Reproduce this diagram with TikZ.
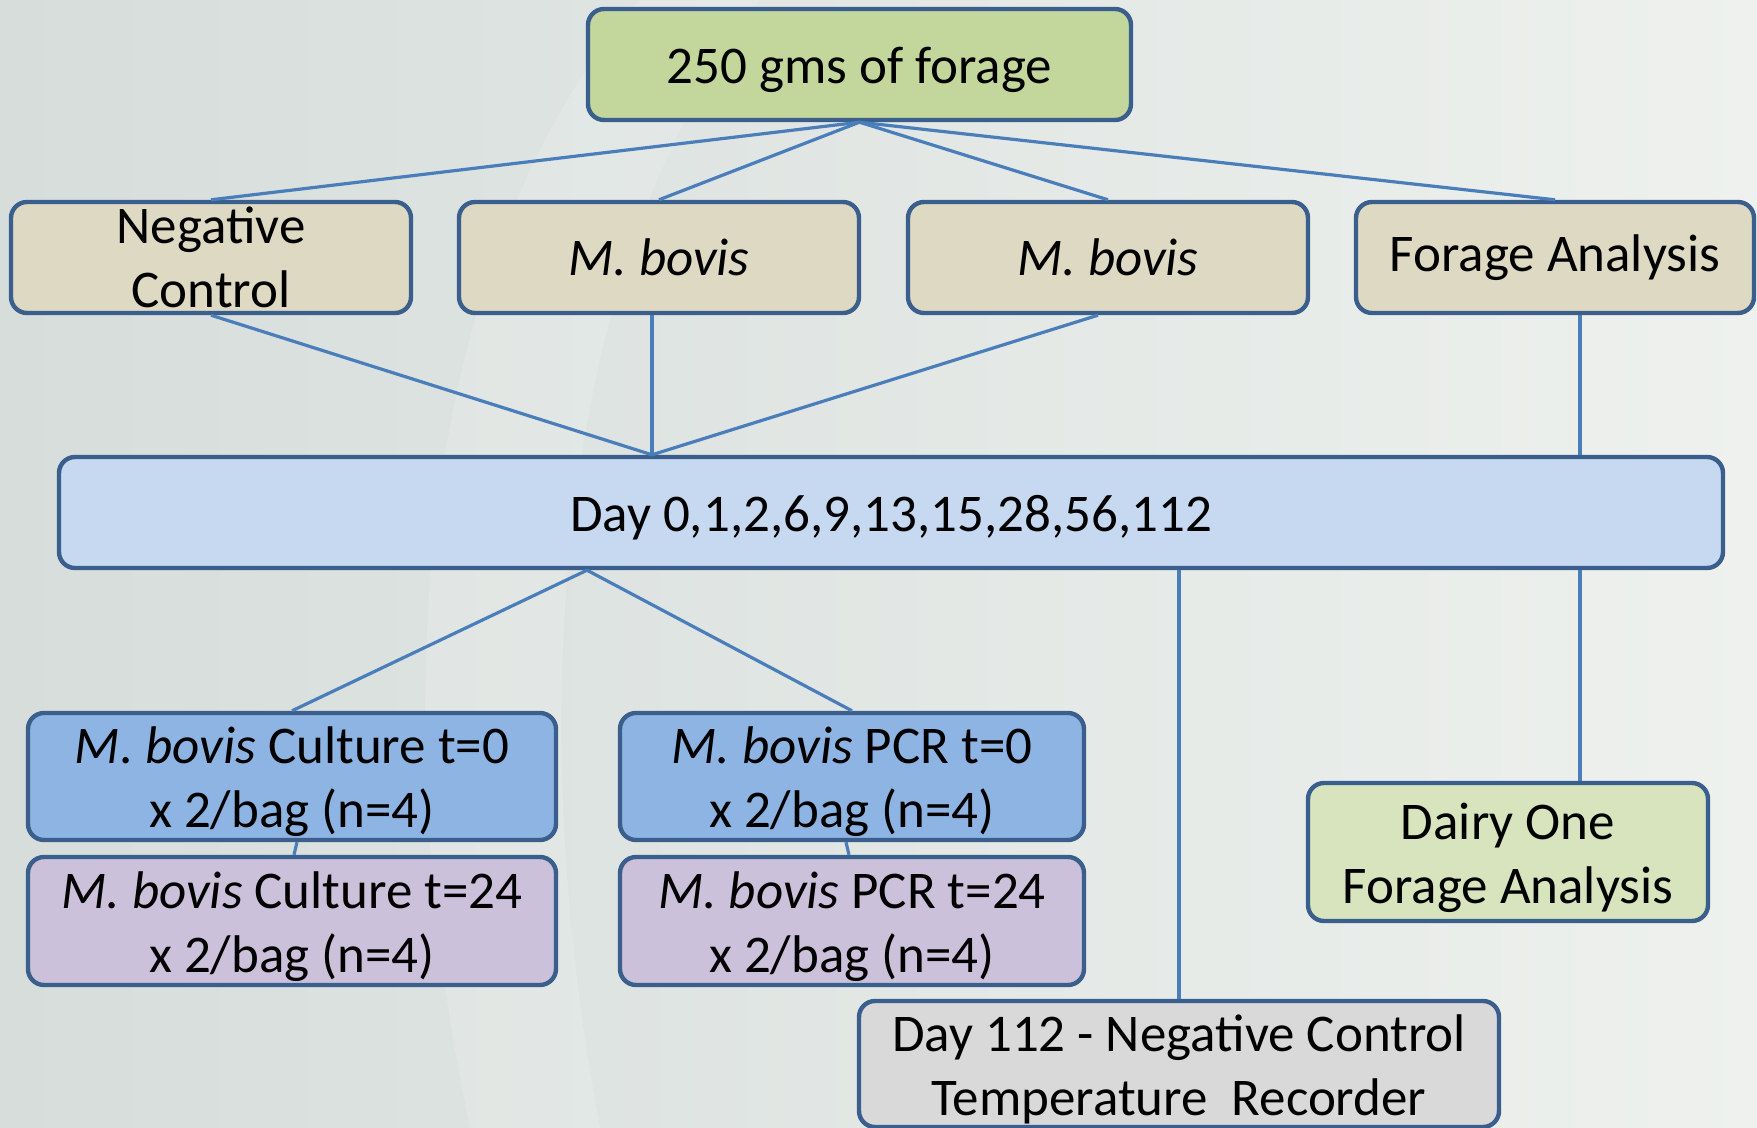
\documentclass[tikz,border=0pt]{standalone}
\usepackage{fontspec}
\setmainfont{Carlito}
\usetikzlibrary{calc}
\definecolor{bgA}{HTML}{D6DDDB}
\definecolor{bgB}{HTML}{EEF1EE}
\definecolor{conn}{HTML}{4A7EBB}
\definecolor{bord}{HTML}{3B5F8D}
\definecolor{fTop}{HTML}{C3D69B}
\definecolor{fRow}{HTML}{DDD9C3}
\definecolor{fDay}{HTML}{C6D9F1}
\definecolor{fZero}{HTML}{8EB4E3}
\definecolor{fTwf}{HTML}{CCC1DA}
\definecolor{fDairy}{HTML}{D7E4BD}
\definecolor{fGray}{HTML}{D9D9D9}
\tikzset{
  box/.style={draw=bord, line width=2.2pt, rounded corners=8pt, inner sep=0pt},
  txt/.style={font=\fontsize{26.5}{32}\selectfont, align=center, inner sep=0pt, text=black, yshift=-2.7pt},
  rowtxt/.style={txt, yshift=2.7pt},
  link/.style={draw=conn, line width=1.6pt},
}
\begin{document}
\begin{tikzpicture}[x=0.5pt,y=-0.5pt]
\useasboundingbox (0,0) rectangle (1757,1128);
\shade[left color=bgA, right color=bgB] (0,0) rectangle (1757,1128);
\fill[white, opacity=0.15] (470,1128) .. controls (380,700) and (420,250) .. (640,0) -- (760,0) .. controls (560,260) and (520,700) .. (600,1128) -- cycle;

\node[box, fill=fTop, minimum width=271.5pt, minimum height=55.5pt, label={[txt]center:250 gms of forage}] (top) at (859.5,64.5) {};
\node[box, fill=fRow, minimum width=200pt, minimum height=55.5pt, label={[rowtxt]center:Negative\\Control}] (neg) at (211,257.5) {};
\node[box, fill=fRow, minimum width=200pt, minimum height=55.5pt, label={[rowtxt]center:\textit{M. bovis}}] (mba) at (659,257.5) {};
\node[box, fill=fRow, minimum width=200pt, minimum height=55.5pt, label={[rowtxt]center:\textit{M. bovis}}] (mbb) at (1108,257.5) {};
\node[box, fill=fRow, minimum width=199pt, minimum height=55.5pt, label={[rowtxt]center:Forage Analysis}] (fa) at (1555,257.5) {};
\node[box, fill=fDay, minimum width=832pt, minimum height=55.5pt, label={[txt]center:Day 0,1,2,6,9,13,15,28,56,112}] (day) at (891,512.5) {};
\node[box, fill=fZero, minimum width=264pt, minimum height=63.5pt, label={[txt]center:\textit{M. bovis} Culture t=0\\x 2/bag (n=4)}] (c0) at (292,776.5) {};
\node[box, fill=fTwf, minimum width=264pt, minimum height=64pt, label={[txt]center:\textit{M. bovis} Culture t=24\\x 2/bag (n=4)}] (c24) at (292,921) {};
\node[box, fill=fZero, minimum width=232pt, minimum height=63.5pt, label={[txt]center:\textit{M. bovis} PCR t=0\\x 2/bag (n=4)}] (p0) at (852,776.5) {};
\node[box, fill=fTwf, minimum width=232pt, minimum height=64pt, label={[txt]center:\textit{M. bovis} PCR t=24\\x 2/bag (n=4)}] (p24) at (852,921) {};
\node[box, fill=fDairy, minimum width=200pt, minimum height=69pt, label={[txt]center:Dairy One\\Forage Analysis}] (dairy) at (1508,852) {};
\node[box, fill=fGray, minimum width=320pt, minimum height=63pt, label={[txt]center:Day 112 - Negative Control\\Temperature~~Recorder}] (d112) at (1179,1064) {};

\coordinate (meet) at ($(day.north)+(-239,0)$);
\coordinate (split) at ($(day.south)+(-304,0)$);
\coordinate (faout) at ($(fa.south)+(25,0)$);
\coordinate (dairyin) at ($(dairy.north)+(72,0)$);

\path[link] (top.south) -- (neg.north);
\path[link] (top.south) -- (mba.north);
\path[link] (top.south) -- (mbb.north);
\path[link] (top.south) -- (fa.north);
\path[link] (neg.south) -- (meet);
\path[link] ($(mba.south)+(-7,0)$) -- (meet);
\path[link] ($(mbb.south)+(-10,0)$) -- (meet);
\path[link] (faout) -- (faout |- day.north);
\path[link] (split) -- (c0.north);
\path[link] (split) -- (p0.north);
\path[link] (day.south -| d112.north) -- (d112.north);
\path[link] (day.south -| dairyin) -- (dairyin);
\path[link] ($(c0.south)+(5,0)$) -- ($(c24.north)+(2,0)$);
\path[link] ($(p0.south)+(-6,0)$) -- ($(p24.north)+(-3,0)$);
\end{tikzpicture}
\end{document}
